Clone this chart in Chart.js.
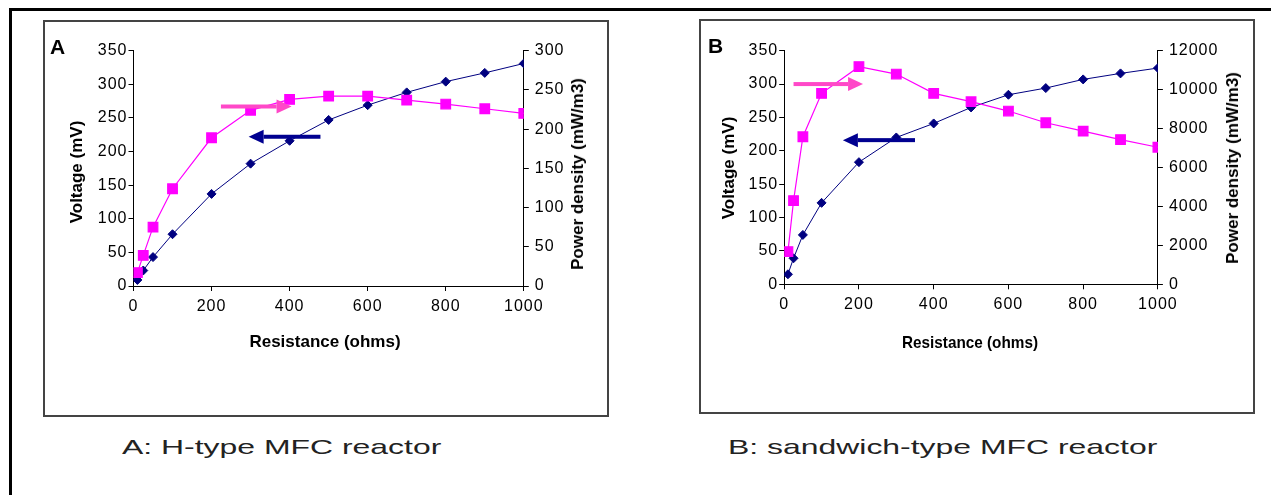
<!DOCTYPE html>
<html>
<head>
<meta charset="utf-8">
<script src="https://cdn.jsdelivr.net/npm/chart.js@4"></script>
<style>
  body { margin: 0; background: #fff; width: 1271px; height: 495px; overflow: hidden; position: relative;
         font-family: "Liberation Sans", Arial, sans-serif; }
  .frame-top { position: absolute; left: 9px; top: 8px; width: 1262px; height: 3px; background: #000; }
  .frame-left { position: absolute; left: 9px; top: 8px; width: 3px; height: 487px; background: #000; }
  .panel { position: absolute; border: 2px solid #444; box-sizing: border-box; }
  canvas { position: absolute; }
  .lbl { position: absolute; white-space: nowrap; color: #000; }
  .ttl { font-weight: bold; font-size: 17px; }
  .cap { font-size: 21px; color: #222; transform-origin: left center; }
  .tag { font-weight: bold; font-size: 21px; }
</style>
</head>
<body>
<div class="frame-top"></div>
<div class="frame-left"></div>

<div class="panel" style="left:43px;top:20px;width:566px;height:397px"></div>
<div class="panel" style="left:699px;top:19px;width:556px;height:395px"></div>

<canvas id="chartA" width="564" height="395" style="left:44px;top:21px"></canvas>
<canvas id="chartB" width="554" height="394" style="left:700px;top:20px"></canvas>

<div class="lbl tag" style="left:50px;top:35px">A</div>
<div class="lbl tag" style="left:708px;top:34px">B</div>

<div class="lbl ttl" style="left:77px;top:172px;transform:translate(-50%,-50%) rotate(-90deg)">Voltage (mV)</div>
<div class="lbl ttl" style="left:578px;top:174px;transform:translate(-50%,-50%) rotate(-90deg)">Power density (mW/m3)</div>
<div class="lbl ttl" style="left:325px;top:342px;transform:translate(-50%,-50%)">Resistance (ohms)</div>

<div class="lbl ttl" style="left:729px;top:168px;transform:translate(-50%,-50%) rotate(-90deg)">Voltage (mV)</div>
<div class="lbl ttl" style="left:1233px;top:168px;transform:translate(-50%,-50%) rotate(-90deg)">Power density (mW/m3)</div>
<div class="lbl ttl" style="left:970px;top:343px;transform:translate(-50%,-50%) scaleX(0.9)">Resistance (ohms)</div>

<div class="lbl cap" style="left:122px;top:447px;transform:translateY(-50%) scaleX(1.52)">A: H-type MFC reactor</div>
<div class="lbl cap" style="left:728px;top:447px;transform:translateY(-50%) scaleX(1.52)">B: sandwich-type MFC reactor</div>

<script>
// external resistance (ohms), same for both reactors
const resistance = [10, 25, 50, 100, 200, 300, 400, 500, 600, 700, 800, 900, 1000];

// A: H-type reactor
const voltageA = [9, 23, 43, 77, 137, 182, 216, 247, 269, 288, 304, 317, 331];
const powerA = [17, 39, 75, 124, 189, 224, 238, 242, 242, 237, 232, 226, 220];

// B: sandwich-type reactor
const voltageB = [15, 39, 74, 122, 183, 220, 241, 265, 284, 294, 307, 316, 324];
const powerB = [1680, 4300, 7580, 9810, 11180, 10800, 9810, 9380, 8900, 8300, 7870, 7430, 7040];

// tick labels
const xTicks = [0, 200, 400, 600, 800, 1000];
const voltTicks = [0, 50, 100, 150, 200, 250, 300, 350];
const powerTicksA = [0, 50, 100, 150, 200, 250, 300];
const powerTicksB = [0, 2000, 4000, 6000, 8000, 10000, 12000];

// arrows pointing at the axis each curve belongs to (x from/to, y on voltage axis)
const arrowsA = [
  { from: 224, to: 405, y: 267, color: "#ff48c8" },
  { from: 479, to: 295, y: 222, color: "#000090" },
];
const arrowsB = [
  { from: 25, to: 211, y: 300, color: "#ff48c8" },
  { from: 350, to: 157, y: 216, color: "#000090" },
];

const tickFont = { family: "'Liberation Sans', Arial, sans-serif", size: 16 };

const arrowPlugin = {
  id: "arrows",
  afterDatasetsDraw(chart, args, opts) {
    const ctx = chart.ctx;
    const xs = chart.scales.x;
    const ys = chart.scales.y;
    opts.list.forEach((a) => {
      const x0 = xs.getPixelForValue(a.from);
      const x1 = xs.getPixelForValue(a.to);
      const y = ys.getPixelForValue(a.y);
      const dir = Math.sign(x1 - x0);
      const head = 15, half = 7, shaft = 4;
      const xb = x1 - dir * head;
      ctx.save();
      ctx.fillStyle = a.color;
      ctx.fillRect(Math.min(x0, xb), y - shaft / 2, Math.abs(xb - x0), shaft);
      ctx.beginPath();
      ctx.moveTo(x1, y);
      ctx.lineTo(xb, y - half);
      ctx.lineTo(xb, y + half);
      ctx.closePath();
      ctx.fill();
      ctx.restore();
    });
  },
};

// wider digit spacing like the original
const spacingPlugin = {
  id: "spacing",
  beforeUpdate(chart) { chart.ctx.letterSpacing = "1px"; },
  beforeDraw(chart) { chart.ctx.letterSpacing = "1px"; },
};

const plain = (v) => String(v);

function makeChart(id, volt, power, powerTicks, powerMax, arrows, box) {
  const canvas = document.getElementById(id);
  const W = canvas.width, H = canvas.height;
  const axisStyle = {
    grid: { drawOnChartArea: false, tickLength: 5, color: "#000" },
    border: { color: "#000", width: 1 },
  };
  return new Chart(canvas.getContext("2d"), {
    type: "line",
    data: {
      datasets: [
        {
          label: "Voltage",
          data: resistance.map((r, i) => ({ x: r, y: volt[i] })),
          yAxisID: "y",
          borderColor: "#000080",
          backgroundColor: "#000080",
          borderWidth: 1,
          pointStyle: "rectRot",
          pointRadius: 4.5,
          order: 1,
        },
        {
          label: "Power density",
          data: resistance.map((r, i) => ({ x: r, y: power[i] })),
          yAxisID: "y1",
          borderColor: "#ff00ff",
          backgroundColor: "#ff00ff",
          borderWidth: 1.2,
          pointStyle: "rect",
          pointRadius: 6.8,
          order: 0,
        },
      ],
    },
    options: {
      responsive: false,
      animation: false,
      devicePixelRatio: 1,
      layout: { padding: { top: box.top, left: 0, right: 0, bottom: 0 }, autoPadding: false },
      plugins: { legend: { display: false }, tooltip: { enabled: false }, arrows: { list: arrows } },
      scales: {
        x: {
          type: "linear", position: "bottom", min: 0, max: 1000,
          ...axisStyle,
          ticks: { font: tickFont, color: "#000", padding: 6, maxRotation: 0, autoSkip: false, callback: plain },
          afterBuildTicks: (s) => { s.ticks = xTicks.map((v) => ({ value: v })); },
          afterFit: (s) => { s.height = H - box.bottom; },
        },
        y: {
          type: "linear", position: "left", min: 0, max: 350,
          ...axisStyle,
          ticks: { font: tickFont, color: "#000", padding: 1, callback: plain },
          afterBuildTicks: (s) => { s.ticks = voltTicks.map((v) => ({ value: v })); },
          afterFit: (s) => { s.width = box.left; },
        },
        y1: {
          type: "linear", position: "right", min: 0, max: powerMax,
          ...axisStyle,
          ticks: { font: tickFont, color: "#000", padding: 6, callback: plain },
          afterBuildTicks: (s) => { s.ticks = powerTicks.map((v) => ({ value: v })); },
          afterFit: (s) => { s.width = W - box.right; },
        },
      },
    },
    plugins: [arrowPlugin, spacingPlugin],
  });
}

makeChart("chartA", voltageA, powerA, powerTicksA, 300, arrowsA,
  { left: 89.5, right: 479.8, top: 29.7, bottom: 265 });
makeChart("chartB", voltageB, powerB, powerTicksB, 12000, arrowsB,
  { left: 84.2, right: 457.9, top: 30.7, bottom: 264.3 });
</script>
</body>
</html>
